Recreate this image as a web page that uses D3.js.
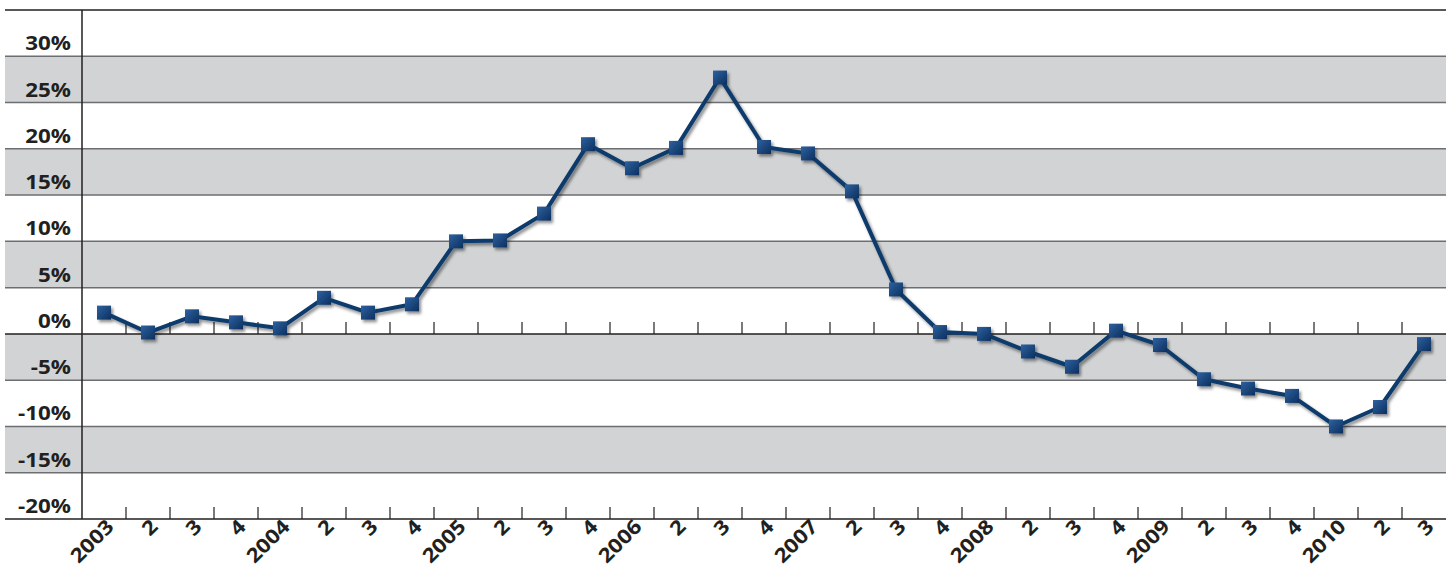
<!DOCTYPE html>
<html lang="en">
<head>
    <meta charset="UTF-8">
    <title>Quarterly change</title>

    <style>
        body { margin: 0; background: #fff; }
        svg { display: block; font-family: "Open Sans", "DejaVu Sans", sans-serif; }
        .ylab text, .xlab text { font-weight: 700; font-size: 20px; fill: #231f20; }
        .grid line { stroke: #6d6e71; stroke-width: 1.5px; }
    </style>

</head>
<body>

<script src="https://d3js.org/d3.v7.min.js"></script>
<script>

    // quarters, 2003 Q1 .. 2010 Q3
    const quarters = [
        '2003Q1', '2003Q2', '2003Q3', '2003Q4',
        '2004Q1', '2004Q2', '2004Q3', '2004Q4',
        '2005Q1', '2005Q2', '2005Q3', '2005Q4',
        '2006Q1', '2006Q2', '2006Q3', '2006Q4',
        '2007Q1', '2007Q2', '2007Q3', '2007Q4',
        '2008Q1', '2008Q2', '2008Q3', '2008Q4',
        '2009Q1', '2009Q2', '2009Q3', '2009Q4',
        '2010Q1', '2010Q2', '2010Q3'
    ];
    const tickLabels = [
        '2003', '2', '3', '4', '2004', '2', '3', '4',
        '2005', '2', '3', '4', '2006', '2', '3', '4',
        '2007', '2', '3', '4', '2008', '2', '3', '4',
        '2009', '2', '3', '4', '2010', '2', '3'
    ];
    const change = [
        2.3, 0.15, 1.9, 1.25, 0.6, 3.9, 2.3, 3.2,
        10.0, 10.1, 13.0, 20.5, 17.9, 20.1, 27.7, 20.2,
        19.5, 15.4, 4.8, 0.2, 0.0, -1.9, -3.55, 0.35,
        -1.2, -4.9, -5.9, -6.7, -10.0, -7.9, -1.1
    ];
    const yTicks = [-20, -15, -10, -5, 0, 5, 10, 15, 20, 25, 30];
    const greyBands = [[25, 30], [15, 20], [5, 10], [-5, 0], [-15, -10]];

    const width = 1455;
    const height = 571;
    const plotLeft = 82, plotRight = 1446, plotTop = 10, plotBottom = 519;
    const stretch = 1.12;   // labels are set in a slightly wide face

    let svg = d3.select('body').append('svg')
        .attr('width', width)
        .attr('height', height);

    let defs = svg.append('defs');
    let grad = defs.append('linearGradient')
        .attr('id', 'mark')
        .attr('x1', '0%').attr('y1', '0%')
        .attr('x2', '100%').attr('y2', '100%');
    grad.append('stop').attr('offset', '0%').attr('stop-color', '#2f62a0');
    grad.append('stop').attr('offset', '100%').attr('stop-color', '#0b2f5e');

    let shadow = defs.append('filter')
        .attr('id', 'shadow')
        .attr('x', '-20%').attr('y', '-20%')
        .attr('width', '140%').attr('height', '140%');
    shadow.append('feDropShadow')
        .attr('dx', 2).attr('dy', 2.5)
        .attr('stdDeviation', 1.6)
        .attr('flood-color', '#000')
        .attr('flood-opacity', 0.45);

    let x = d3.scaleBand()
        .domain(quarters)
        .range([plotLeft, plotRight]);

    let y = d3.scaleLinear()
        .domain([-20, 35])
        .range([plotBottom, plotTop]);

    // grey bands
    svg.append('g').selectAll('rect')
        .data(greyBands)
        .enter().append('rect')
        .attr('x', 5)
        .attr('y', function (d) { return y(d[1]); })
        .attr('width', plotRight - 5)
        .attr('height', function (d) { return y(d[0]) - y(d[1]); })
        .attr('fill', '#d1d3d4');

    // grid lines
    svg.append('g')
        .attr('class', 'grid')
        .selectAll('line')
        .data(yTicks.filter(function (d) { return d !== 0 && d !== -20; }))
        .enter().append('line')
        .attr('x1', 5).attr('x2', plotRight)
        .attr('y1', function (d) { return y(d); })
        .attr('y2', function (d) { return y(d); });

    // top, zero and bottom lines
    svg.append('g').selectAll('line')
        .data([35, 0, -20])
        .enter().append('line')
        .attr('x1', 5).attr('x2', plotRight)
        .attr('y1', function (d) { return y(d); })
        .attr('y2', function (d) { return y(d); })
        .attr('stroke', '#231f20')
        .attr('stroke-width', 1.5);

    // y axis
    svg.append('line')
        .attr('x1', plotLeft).attr('x2', plotLeft)
        .attr('y1', y(35)).attr('y2', y(-20))
        .attr('stroke', '#231f20')
        .attr('stroke-width', 1.5);

    svg.append('g')
        .attr('class', 'ylab')
        .selectAll('text')
        .data(yTicks)
        .enter().append('text')
        .attr('text-anchor', 'end')
        .attr('transform', function (d) {
            return 'translate(71,' + (y(d) - 6) + ') scale(' + stretch + ',1)';
        })
        .text(function (d) { return d + '%'; });

    // tick marks on the zero line and the bottom axis
    let boundaries = quarters.slice(1);
    [0, -20].forEach(function (v) {
        svg.append('g').selectAll('line')
            .data(boundaries)
            .enter().append('line')
            .attr('x1', function (d) { return x(d); })
            .attr('x2', function (d) { return x(d); })
            .attr('y1', y(v))
            .attr('y2', y(v) - 12)
            .attr('stroke', '#231f20')
            .attr('stroke-width', 1.2);
    });

    // x labels
    svg.append('g')
        .attr('class', 'xlab')
        .selectAll('text')
        .data(quarters)
        .enter().append('text')
        .attr('text-anchor', 'end')
        .attr('transform', function (d) {
            let cx = x(d) + x.bandwidth() / 2 + 11;
            return 'translate(' + cx + ',528) rotate(-45) scale(' + stretch + ',1)';
        })
        .text(function (d, i) { return tickLabels[i]; });

    // series
    let line = d3.line()
        .x(function (d, i) { return x(quarters[i]) + x.bandwidth() / 2; })
        .y(function (d) { return y(d); });

    let series = svg.append('g').attr('filter', 'url(#shadow)');

    series.append('path')
        .datum(change)
        .attr('d', line)
        .attr('fill', 'none')
        .attr('stroke', '#0d3a6c')
        .attr('stroke-width', 4)
        .attr('stroke-linejoin', 'round');

    series.selectAll('rect')
        .data(change)
        .enter().append('rect')
        .attr('x', function (d, i) { return x(quarters[i]) + x.bandwidth() / 2 - 7; })
        .attr('y', function (d) { return y(d) - 7; })
        .attr('width', 14)
        .attr('height', 14)
        .attr('fill', 'url(#mark)');

</script>

</body>
</html>
